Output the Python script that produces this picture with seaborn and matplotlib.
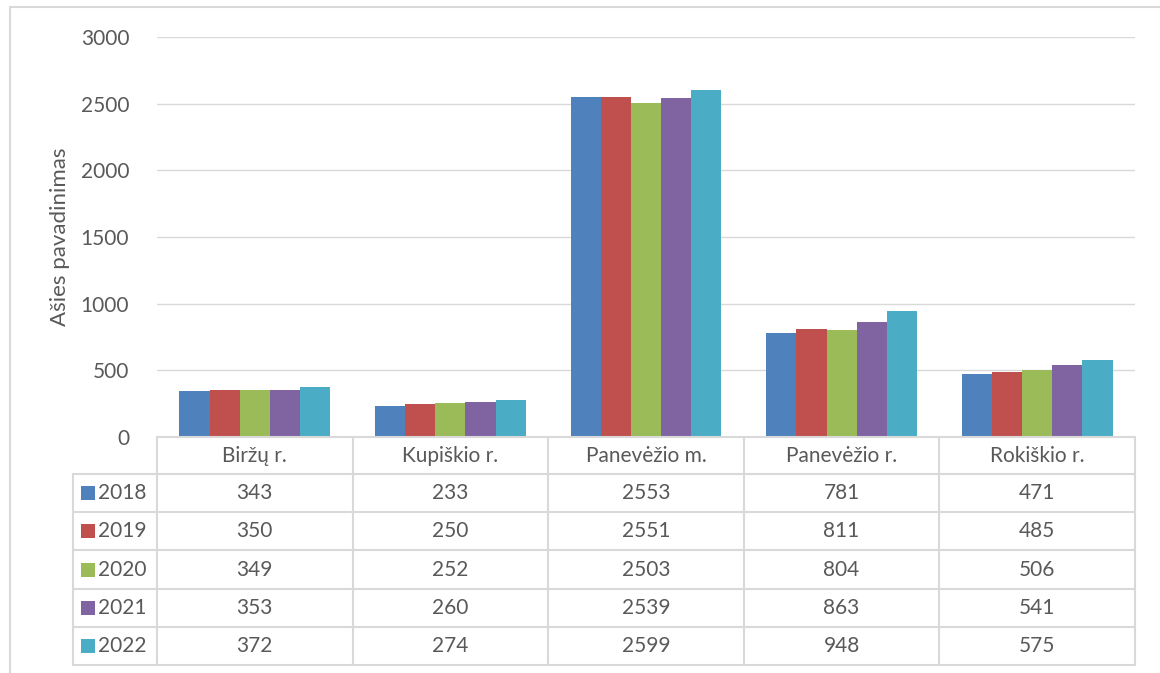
import pandas as pd
import seaborn as sns
import matplotlib.pyplot as plt
from matplotlib.patches import Rectangle

# Data
categories = ['Biržų r.', 'Kupiškio r.', 'Panevėžio m.', 'Panevėžio r.', 'Rokiškio r.']
years = ['2018', '2019', '2020', '2021', '2022']
v2018 = [343, 233, 2553, 781, 471]
v2019 = [350, 250, 2551, 811, 485]
v2020 = [349, 252, 2503, 804, 506]
v2021 = [353, 260, 2539, 863, 541]
v2022 = [372, 274, 2599, 948, 575]
colors = ['#4F81BD', '#C0504D', '#9BBB59', '#8064A2', '#4BACC6']

series = [v2018, v2019, v2020, v2021, v2022]
df = pd.DataFrame([
    {'cat': c, 'year': y, 'value': vals[i]}
    for y, vals in zip(years, series)
    for i, c in enumerate(categories)
])

sns.set_style('white')
plt.rcParams['font.family'] = ['Lato', 'DejaVu Sans']
txt = '#595959'
grid = '#D9D9D9'
W, H = 1160, 673
fs = 15

fig = plt.figure(figsize=(W / 100, H / 100), dpi=100)

# outer chart frame
fig.patches.append(Rectangle((10 / W, -0.1), 1.2, (673 - 7) / H + 0.1, transform=fig.transFigure,
                             fill=False, edgecolor=grid, linewidth=1.5))

left, right, top, base = 157, 1135, 37, 437
ax = fig.add_axes([left / W, 1 - base / H, (right - left) / W, (base - top) / H])

sns.barplot(data=df, x='cat', y='value', hue='year', palette=colors, width=0.77,
            saturation=1, ax=ax, legend=False, edgecolor='none')

ax.set_xlim(-0.5, 4.5)
ax.set_ylim(0, 3000)
ax.set_yticks(range(0, 3001, 500))
ax.yaxis.grid(True, color=grid, linewidth=1)
ax.set_axisbelow(True)
for s in ax.spines.values():
    s.set_visible(False)
ax.tick_params(axis='y', length=0, pad=20, labelsize=fs, labelcolor=txt)
ax.set_xticks([])
ax.set_xlabel('')
ax.set_ylabel('Ašies pavadinimas', fontsize=16, color=txt, labelpad=8)

# data table below the plot
row_h = 38.2
rows_top = base + 37
fx = lambda px: px / W
fy = lambda py: 1 - py / H
col_w = (right - left) / len(categories)
leg_left = 73

def hline(y, x0, x1):
    fig.add_artist(plt.Line2D([fx(x0), fx(x1)], [fy(y), fy(y)], color=grid, linewidth=1.5))

def vline(x, y0, y1):
    fig.add_artist(plt.Line2D([fx(x), fx(x)], [fy(y0), fy(y1)], color=grid, linewidth=1.5))

hline(base, left, right)
bottom = rows_top + row_h * len(years)
for r in range(len(years) + 1):
    hline(rows_top + r * row_h, leg_left, right)
for c in range(len(categories) + 1):
    vline(left + c * col_w, base, bottom)
vline(leg_left, rows_top, bottom)

for c, cat in enumerate(categories):
    cx = left + (c + 0.5) * col_w
    fig.text(fx(cx), fy((base + rows_top) / 2), cat, ha='center', va='center', fontsize=fs, color=txt)

for r, (yr, vals, col) in enumerate(zip(years, series, colors)):
    cy = rows_top + (r + 0.5) * row_h
    fig.patches.append(Rectangle((fx(81), fy(cy + 7)), 14 / W, 14 / H, transform=fig.transFigure,
                                 facecolor=col, edgecolor='none'))
    fig.text(fx(98), fy(cy), yr, ha='left', va='center', fontsize=fs, color=txt)
    for c, v in enumerate(vals):
        cx = left + (c + 0.5) * col_w
        fig.text(fx(cx), fy(cy), str(v), ha='center', va='center', fontsize=fs, color=txt)

fig.savefig('out.png', dpi=100)
